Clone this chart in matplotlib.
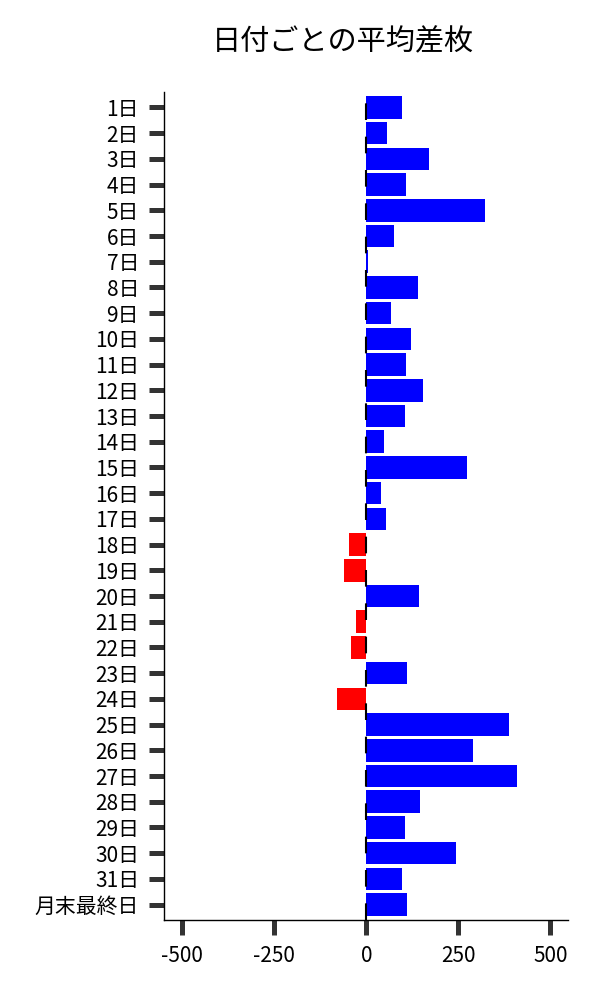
import matplotlib
matplotlib.use("Agg")
import matplotlib.pyplot as plt

plt.rcParams['font.family'] = ['Noto Sans CJK JP', 'DejaVu Sans']
plt.rcParams['axes.unicode_minus'] = False

categories = [f"{i}日" for i in range(1, 32)] + ["月末最終日"]
values = [98, 57, 171, 108, 322, 76, 5, 141, 67, 122,
          108, 154, 105, 48, 273, 40, 53, -48, -62, 144,
          -27, -43, 110, -81, 388, 290, 409, 146, 106, 244,
          96, 111]
xticks = [-500, -250, 0, 250, 500]
xticklabels = ["-500", "-250", "0", "250", "500"]
title = "日付ごとの平均差枚"

fig = plt.figure(figsize=(6, 10), dpi=100)
ax = fig.add_axes([164/600, 0.08, (568-164)/600, (920-92)/1000])

ypos = list(range(len(categories)))
colors = ['#0000ff' if v >= 0 else '#ff0000' for v in values]
ax.barh(ypos, values, height=0.88, color=colors)
ax.axvline(0, color='black', lw=1.5, dashes=(8, 8))

ax.set_xlim(-550, 548)
ax.set_ylim(len(categories) - 0.4, -0.6)
ax.set_yticks(ypos)
ax.set_yticklabels(categories)
ax.set_xticks(xticks)
ax.set_xticklabels(xticklabels)

for s in ['top', 'right']:
    ax.spines[s].set_visible(False)
for s in ['left', 'bottom']:
    ax.spines[s].set_color('black')
    ax.spines[s].set_linewidth(1.0)

ax.tick_params(axis='y', length=11, width=3.6, color='#333333', pad=7, labelsize=15)
ax.tick_params(axis='x', length=11, width=3.6, color='#333333', pad=7, labelsize=15)

fig.text(343/600, 1 - 42/1000, title, ha='center', va='center', fontsize=21)

fig.savefig("out.png", dpi=100)
